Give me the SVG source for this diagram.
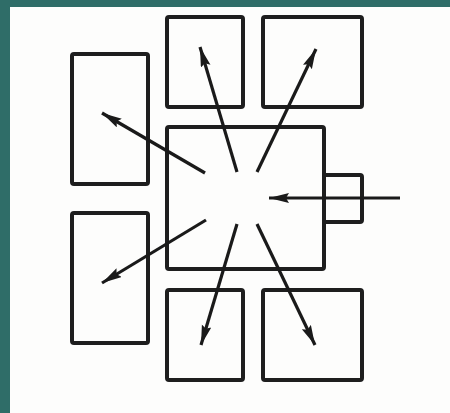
<svg xmlns="http://www.w3.org/2000/svg" width="450" height="413" viewBox="0 0 450 413">
<style>
.box{fill:none;stroke:#1e1e1e;stroke-width:4;stroke-linejoin:round}
.conn{stroke:#1a1a1a;stroke-width:3.2;fill:none;marker-end:url(#ah)}
</style>
<defs>
<marker id="ah" markerUnits="userSpaceOnUse" markerWidth="22" markerHeight="11" refX="20" refY="5" orient="auto">
<path d="M0,0 L20,5 L0,10 L3,5 z" fill="#1a1a1a"/>
</marker>
</defs>
<rect x="0" y="0" width="450" height="413" fill="#2f6d68"/>
<rect x="10" y="7" width="440" height="406" fill="#fdfdfc"/>
<g id="node-left-upper"><rect class="box" x="72" y="54" width="76" height="130" rx="2"/></g>
<g id="node-left-lower"><rect class="box" x="72" y="213" width="76" height="130" rx="2"/></g>
<g id="node-top-left"><rect class="box" x="167" y="17" width="76" height="90" rx="2"/></g>
<g id="node-top-right"><rect class="box" x="263" y="17" width="99" height="90" rx="2"/></g>
<g id="node-center"><rect class="box" x="167" y="127" width="157" height="142" rx="2"/></g>
<g id="node-port"><rect class="box" x="324" y="175" width="38" height="47" rx="2"/></g>
<g id="node-bottom-left"><rect class="box" x="167" y="290" width="76" height="90" rx="2"/></g>
<g id="node-bottom-right"><rect class="box" x="263" y="290" width="99" height="90" rx="2"/></g>
<g id="connectors">
<line class="conn" x1="205" y1="173" x2="102" y2="113"/>
<line class="conn" x1="237" y1="172" x2="200" y2="47"/>
<line class="conn" x1="257" y1="172" x2="316" y2="49"/>
<line class="conn" x1="400" y1="198" x2="269" y2="198"/>
<line class="conn" x1="206" y1="220" x2="102" y2="283"/>
<line class="conn" x1="237" y1="224" x2="201" y2="345"/>
<line class="conn" x1="257" y1="224" x2="315" y2="345"/>
</g>
</svg>
